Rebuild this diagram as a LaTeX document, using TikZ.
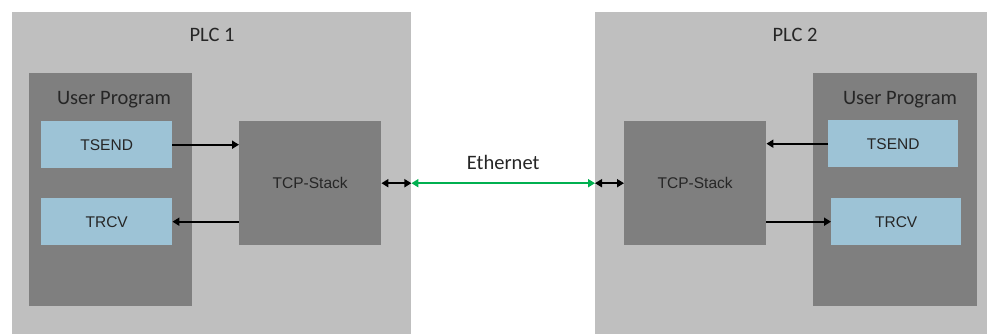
\documentclass[tikz,border=0pt]{standalone}
\usepackage{fontspec}
\setmainfont{Carlito}
\newfontfamily\arialfont{Liberation Sans}
\usetikzlibrary{arrows.meta,positioning}
\definecolor{plcgray}{HTML}{BFBFBF}
\definecolor{progray}{HTML}{7F7F7F}
\definecolor{blockblue}{HTML}{9DC3D6}
\definecolor{ethgreen}{HTML}{00B050}

\begin{document}
\begin{tikzpicture}[x=1pt,y=-1pt,
area/.style={fill=plcgray,inner sep=0pt,anchor=north west},
prog/.style={fill=progray,inner sep=0pt,anchor=north west,minimum width=163pt,minimum height=233pt},
fb/.style={fill=blockblue,inner sep=0pt,anchor=north west,minimum width=131pt,minimum height=47pt,font=\arialfont\fontsize{15.5}{18}\selectfont,text=black!85},
stack/.style={fill=progray,inner sep=0pt,anchor=north west,minimum width=142pt,minimum height=124pt,font=\arialfont\fontsize{15.5}{18}\selectfont,text=black!85},
title/.style={font=\fontsize{20.5}{24}\selectfont,text=black!85,inner sep=0pt},
arr/.style={-{Triangle[length=7pt,width=8pt]},line width=2pt},
darr/.style={{Triangle[length=7pt,width=8pt]}-{Triangle[length=7pt,width=8pt]},line width=2pt}]
\useasboundingbox (0,0) rectangle (987,334);
% PLC 1
\node[area,minimum width=399pt,minimum height=322pt] (plc1) at (12,12) {};
\node[title] (plc1lbl) at (212,35) {PLC 1};
\node[prog] (up1) at (29,73) {};
\node[title] (up1lbl) at (114,100) {User Program};
\node[fb] (tsend1) at (41,121) {TSEND};
\node[fb] (trcv1) at (41,198) {TRCV};
\node[stack] (tcp1) at (239,121) {TCP-Stack};
% PLC 2
\node[area,minimum width=392pt,minimum height=322pt] (plc2) at (595,12) {};
\node[title] (plc2lbl) at (795,35) {PLC 2};
\node[prog,minimum width=164pt] (up2) at (813,73) {};
\node[title] (up2lbl) at (900,100) {User Program};
\node[fb,minimum width=130pt] (tsend2) at (828,120) {TSEND};
\node[fb,minimum width=130pt] (trcv2) at (831,198) {TRCV};
\node[stack] (tcp2) at (624,121) {TCP-Stack};
% connections
\coordinate (eth1) at (tcp1.east -| plc1.east);
\coordinate (eth2) at (tcp2.west -| plc2.west);
\draw[arr] (tsend1.east) -- (tsend1.east -| tcp1.west);
\draw[arr] (tcp1.west |- trcv1.east) -- (trcv1.east);
\draw[arr] (tsend2.west) -- (tsend2.west -| tcp2.east);
\draw[arr] (tcp2.east |- trcv2.west) -- (trcv2.west);
\draw[darr] (tcp1.east) -- (eth1);
\draw[darr] (tcp2.west) -- (eth2);
\draw[darr,ethgreen,line width=2.5pt] (eth1) -- node[title,above=12pt] (ethlbl) {Ethernet} (eth2);
\end{tikzpicture}
\end{document}
